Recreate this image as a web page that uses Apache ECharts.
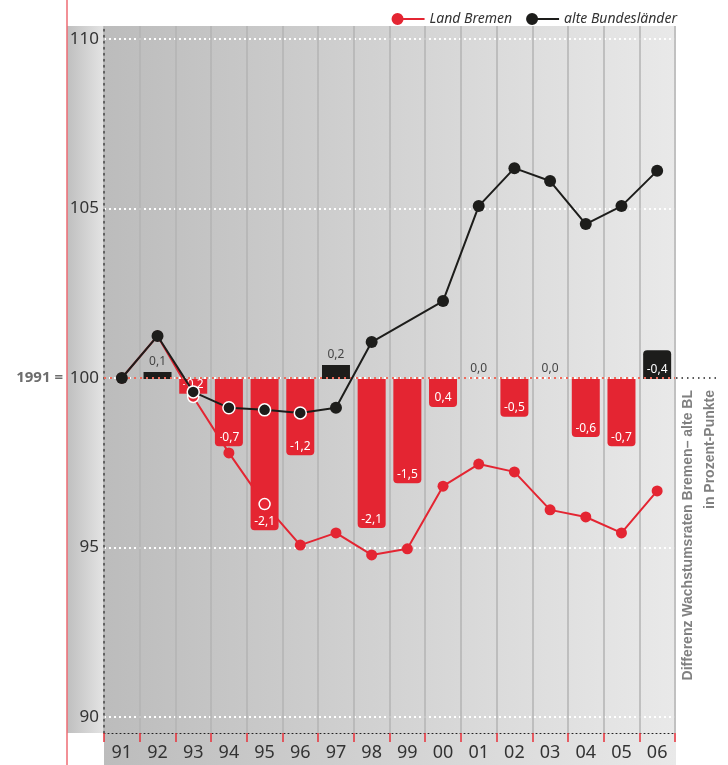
<!DOCTYPE html>
<html><head><meta charset="utf-8">
<script src="https://cdn.jsdelivr.net/npm/echarts@6/dist/echarts.min.js"></script>
<style>html,body{margin:0;padding:0;background:#fff}#c{width:728px;height:765px}</style>
</head><body><div id="c"></div>
<script>
// ---- data ----
const years = ['91','92','93','94','95','96','97','98','99','00','01','02','03','04','05','06'];
const bremen = [100.0,101.24,99.44,97.79,96.28,95.07,95.43,94.78,94.96,96.81,97.46,97.23,96.11,95.90,95.43,96.67];
const alteBL = [100.0,101.24,99.59,99.12,99.06,98.97,99.12,101.06,null,102.27,105.07,106.19,105.81,104.54,105.07,106.11];
// difference bars (percentage points) as drawn, and their printed labels
const diffBarHeights = [null,0.10,-0.21,-0.96,-2.16,-1.09,0.20,-2.13,-1.49,-0.40,0,-0.54,0,-0.83,-0.96,0.41];
const diffLabels = ['','0,1','-0,2','-0,7','-2,1','-1,2','0,2','-2,1','-1,5','0,4','0,0','-0,5','0,0','-0,6','-0,7','-0,4'];
const yTicks = [90,95,100,105,110];
const baseValue = 100;

// ---- styling ----
const RED = '#e42532', BLACK = '#1d1d1b';
const whiteRimBremen = [2,4];
const whiteRimAlte = [2,3,4,5];
const FONT = '"Noto Sans", sans-serif';

const chart = echarts.init(document.getElementById('c'), null, {renderer:'canvas'});

function lineData(arr, rim, color){
  return arr.map((v,i)=> rim.indexOf(i)>=0 ? {value:v, itemStyle:{color:color, borderColor:'#fff', borderWidth:1.5}} : v);
}

const barData = diffBarHeights.map((v,i)=>{
  if (v === null) return null;
  const neg = v < 0;
  const big = Math.abs(v) > 0.3;
  const inside = neg || big;
  return {
    value: v,
    itemStyle: {
      color: neg ? RED : BLACK,
      borderRadius: big ? (neg ? [0,0,4,4] : [4,4,0,0]) : 0
    },
    label: {
      show: true,
      formatter: diffLabels[i],
      position: inside ? 'insideBottom' : 'top',
      distance: inside ? 3 : 4,
      color: inside ? '#fff' : '#444',
      fontSize: 12,
      fontFamily: FONT
    }
  };
});

const option = {
  animation: false,
  backgroundColor: 'transparent',
  grid: {left:104, right:53, top:26, bottom:32, containLabel:false},
  legend: {
    data: ['Land Bremen','alte Bundesländer'],
    right: 46, top: 7,
    itemWidth: 33, itemHeight: 12, itemGap: 14,
    icon: 'path://M0,6A6,6 0 1,1 12,6A6,6 0 1,1 0,6ZM11,5L33,5L33,7L11,7Z',
    textStyle: {fontStyle:'italic', fontSize:14, color:'#333', fontFamily:FONT}
  },
  xAxis: {
    type:'category', data: years, boundaryGap:true,
    axisLine:{show:true, onZero:false, lineStyle:{color:'#222', type:[1,3], width:1}},
    axisTick:{show:true, interval:0, length:9, lineStyle:{color:'#e8303a', width:1.5}},
    axisLabel:{interval:0, fontSize:18, color:'#333', margin:11, fontFamily:FONT},
    splitLine:{show:true, interval:0, lineStyle:{color:'#b3b3b3', width:1.5}}
  },
  yAxis: [{
    type:'value', min:89.528, max:110.383,
    axisLine:{show:true, lineStyle:{color:'#444', type:[1.5,4.5], width:1.5}},
    axisTick:{show:false, customValues: yTicks},
    axisLabel:{customValues: yTicks, fontSize:17, color:'#333', margin:5, fontFamily:FONT},
    splitLine:{show:true, lineStyle:{color:'#ffffff', width:2, type:[2,3]}}
  },{
    type:'value', min:-5.057, max:5.043, show:false,
    axisLine:{show:false}, splitLine:{show:false}, axisLabel:{show:false}
  }],
  series: [
    {
      name:'Differenz', type:'bar', yAxisIndex:1, data: barData, barWidth:28, z:2
    },
    {
      name:'base', type:'line', yAxisIndex:0, data:[], z:3, silent:true,
      markLine:{silent:true, symbol:'none', label:{show:false},
        lineStyle:{color:'#f06a5a', type:[2,4], width:2},
        data:[{yAxis: baseValue}]}
    },
    {
      name:'Land Bremen', type:'line', yAxisIndex:0, data: lineData(bremen, whiteRimBremen, RED),
      color: RED, symbol:'circle', symbolSize:11, z:4,
      lineStyle:{color:RED, width:2}, itemStyle:{color:RED}
    },
    {
      name:'alte Bundesländer', type:'line', yAxisIndex:0, data: lineData(alteBL, whiteRimAlte, BLACK),
      color: BLACK, symbol:'circle', symbolSize:12, z:5, connectNulls:true,
      lineStyle:{color:BLACK, width:2}, itemStyle:{color:BLACK}
    }
  ]
};
chart.setOption(option);

const y100 = chart.convertToPixel({yAxisIndex:0}, baseValue);
const grad = (a,b)=> new echarts.graphic.LinearGradient(0,0,1,0,[{offset:0,color:a},{offset:1,color:b}]);
chart.setOption({
  graphic: [
    {type:'rect', z:-100, silent:true, shape:{x:104, y:26, width:572, height:739}, style:{fill:grad('#bcbcbc','#e9e9e9')}},
    {type:'rect', z:-100, silent:true, shape:{x:67, y:26, width:37, height:707}, style:{fill:grad('#bfbfbf','#e4e4e4')}},
    {type:'line', z:10, silent:true, shape:{x1:67, y1:0, x2:67, y2:765}, style:{stroke:'#ee6b73', lineWidth:1.5}},
    {type:'line', z:10, silent:true, shape:{x1:676, y1:y100, x2:716, y2:y100}, style:{stroke:'#222', lineWidth:1.5, lineDash:[1.5,4]}},
    {type:'text', z:10, silent:true, x:63, y:y100, style:{text:'1991 =', fill:'#6e6e6e', font:'bold 15px "Noto Sans", sans-serif', align:'right', verticalAlign:'middle'}},
    {type:'text', z:10, silent:true, x:688, y:390, rotation:Math.PI/2, style:{text:'Differenz Wachstumsraten Bremen– alte BL', fill:'#808080', font:'bold 14px "Liberation Sans Narrow", "Liberation Sans", sans-serif', align:'right', verticalAlign:'middle'}},
    {type:'text', z:10, silent:true, x:710, y:390, rotation:Math.PI/2, style:{text:'in Prozent-Punkte', fill:'#808080', font:'bold 14px "Liberation Sans Narrow", "Liberation Sans", sans-serif', align:'right', verticalAlign:'middle'}}
  ]
});
</script>
</body></html>
